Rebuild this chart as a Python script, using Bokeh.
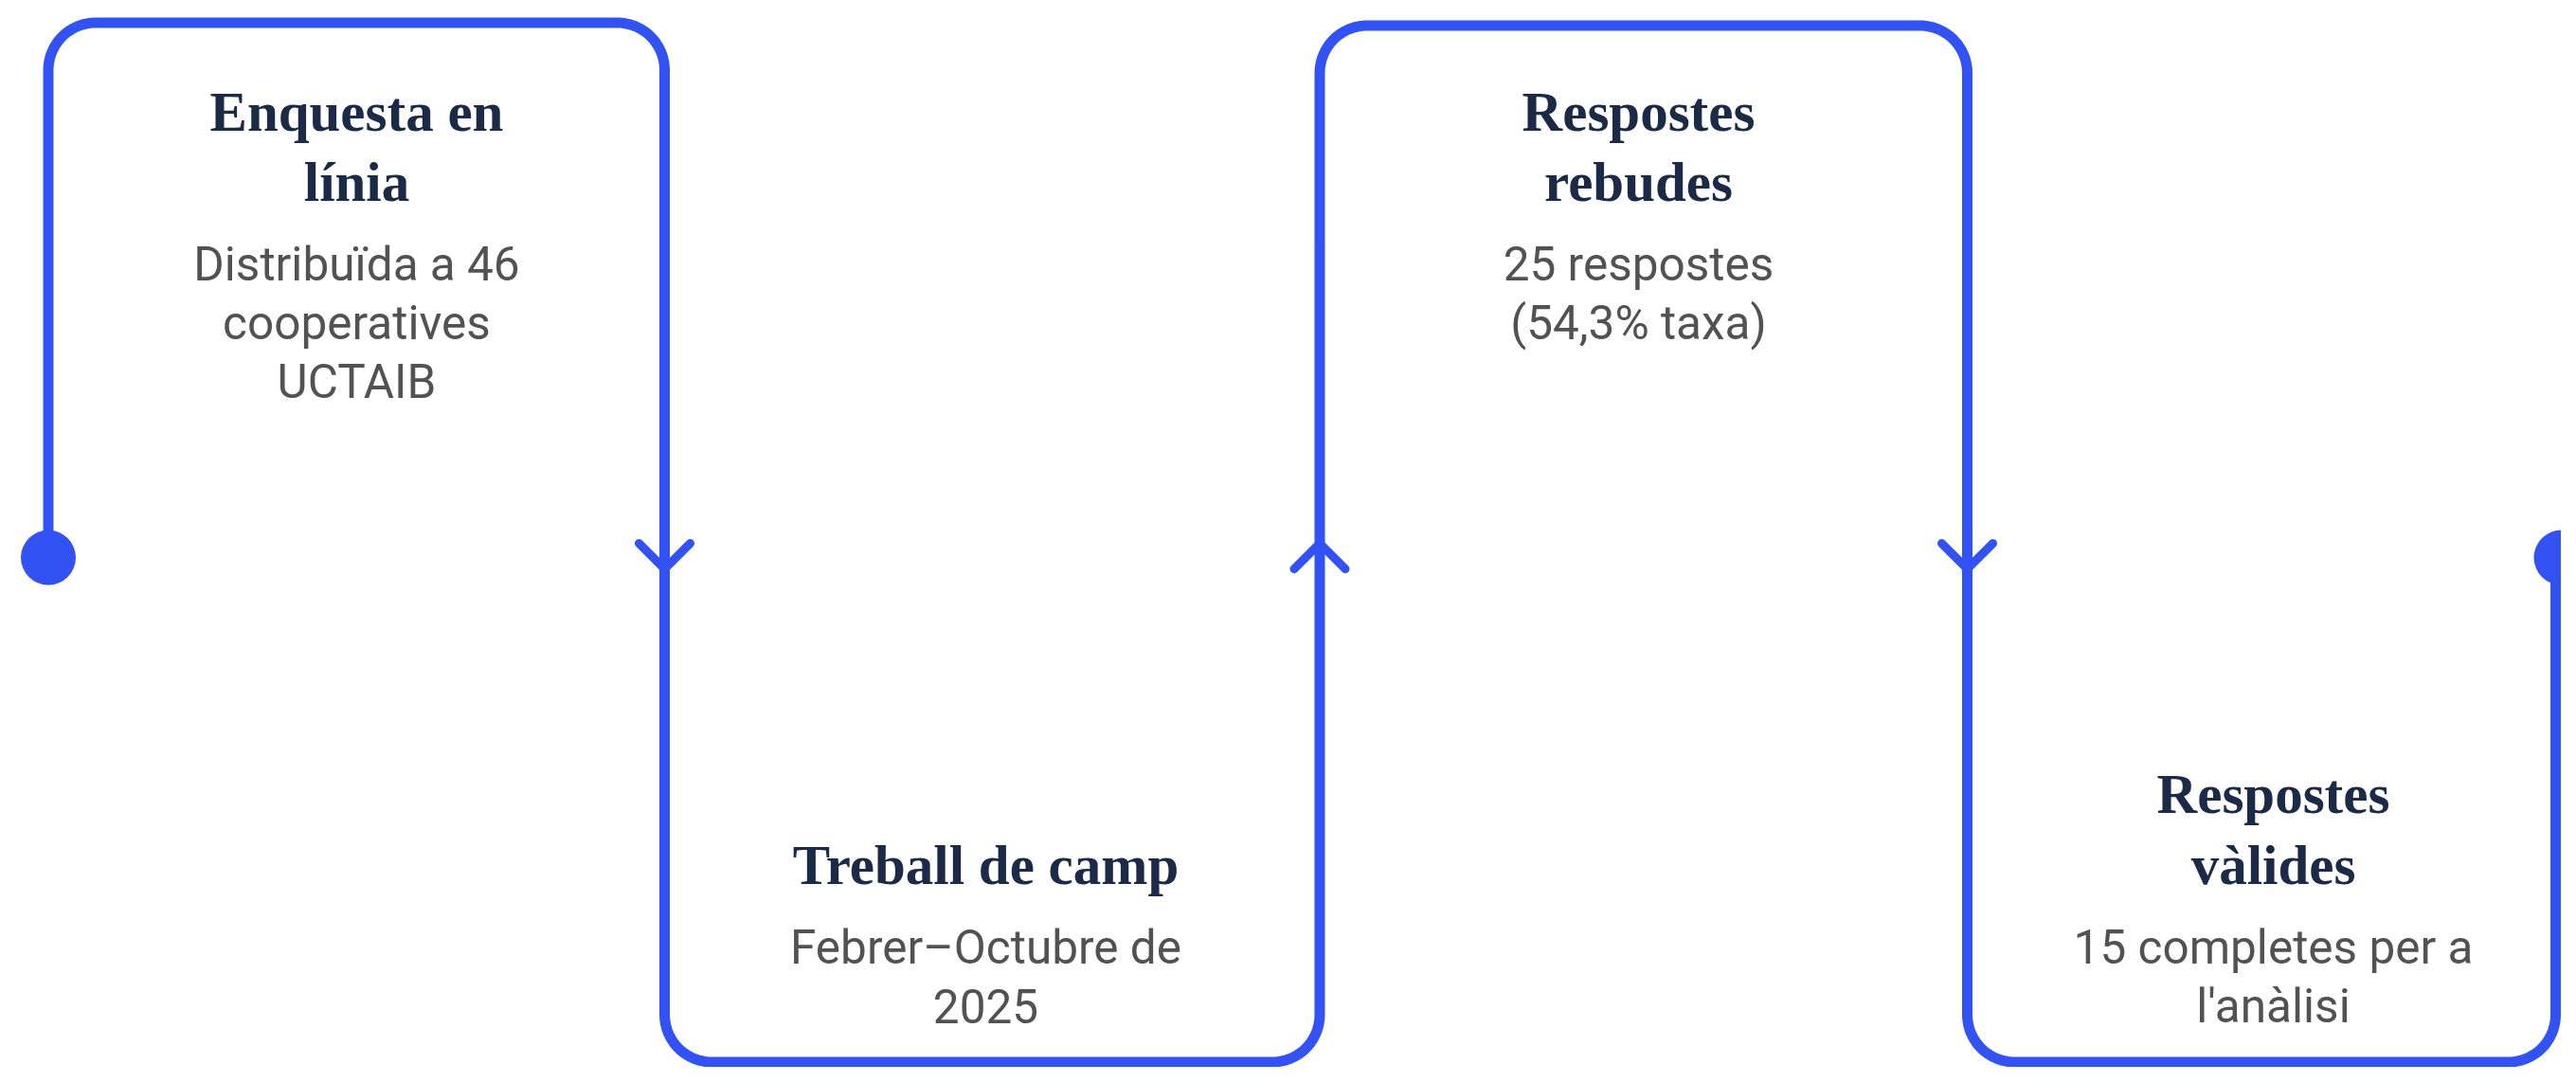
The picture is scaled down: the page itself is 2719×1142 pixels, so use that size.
import numpy as np
from bokeh.plotting import figure
from bokeh.models import Range1d
from bokeh.core.properties import value
from bokeh.embed import file_html
from bokeh.resources import INLINE

# ---- content -------------------------------------------------------------
step_titles = [["Enquesta en", "línia"],
               ["Treball de camp"],
               ["Respostes", "rebudes"],
               ["Respostes", "vàlides"]]
step_descriptions = [["Distribuïda a 46", "cooperatives", "UCTAIB"],
                     ["Febrer–Octubre de", "2025"],
                     ["25 respostes", "(54,3% taxa)"],
                     ["15 completes per a", "l'anàlisi"]]
step_positions = ["top", "bottom", "top", "bottom"]

# ---- layout (page pixel coordinates) ------------------------------------
BLUE = "#3352f3"
NAVY = "#1b2a47"
GREY = "#525252"
W, H = 2703, 1126
column_edges = [50.5, 701, 1392.5, 2076, 2697]
text_centers = [376, 1040, 1729, 2399]
y_tops = [23.5, None, 26.5, None]
y_mid, y_bottom = 588, 1120.5
corner_r = 50
line_w = 11

p = figure(width=W, height=H, output_backend="svg", toolbar_location=None,
           x_range=Range1d(0, W), y_range=Range1d(H, 0),
           min_border=0, outline_line_color=None, background_fill_color="white",
           border_fill_color="white")
p.axis.visible = False
p.grid.visible = False

# serpentine path vertices
verts = [(column_edges[0], y_mid)]
for i in range(4):
    yy = y_tops[i] if step_positions[i] == "top" else y_bottom
    verts.append((column_edges[i], yy))
    verts.append((column_edges[i + 1], yy))
verts.append((column_edges[-1], y_mid))
verts = np.array(verts, dtype=float)


def rounded(points, r, n=24):
    xs, ys = [points[0][0]], [points[0][1]]
    for k in range(1, len(points) - 1):
        P, A, B = points[k], points[k - 1], points[k + 1]
        u1 = (A - P) / np.linalg.norm(A - P)
        u2 = (B - P) / np.linalg.norm(B - P)
        S, E = P + u1 * r, P + u2 * r
        C = P + (u1 + u2) * r
        a0 = np.arctan2(S[1] - C[1], S[0] - C[0])
        a1 = np.arctan2(E[1] - C[1], E[0] - C[0])
        d = (a1 - a0 + np.pi) % (2 * np.pi) - np.pi
        t = np.linspace(0, 1, n)
        xs.extend(C[0] + r * np.cos(a0 + d * t))
        ys.extend(C[1] + r * np.sin(a0 + d * t))
    xs.append(points[-1][0])
    ys.append(points[-1][1])
    return xs, ys


px, py = rounded(verts, corner_r)
p.line(px, py, line_color=BLUE, line_width=line_w, line_join="round", line_cap="round")

# end dots
p.scatter([column_edges[0], column_edges[-1] + 6], [y_mid, y_mid], size=58,
          fill_color=BLUE, line_color=None)

# direction chevrons on the connecting verticals
arm = 27
cx, cy = [], []
for i in range(1, 4):
    x0 = column_edges[i]
    going_down = step_positions[i - 1] == "top"
    if going_down:
        tip, back = y_mid + 12, y_mid + 12 - arm
    else:
        tip, back = y_mid - 15, y_mid - 15 + arm
    cx.append([x0 - arm, x0, x0 + arm])
    cy.append([back, tip, back])
p.multi_line(cx, cy, line_color=BLUE, line_width=9, line_cap="round", line_join="round")

# texts
title_lh, desc_lh, gap = 74.5, 62, 87
first_top_baseline, last_bottom_baseline = 117, 1061
tx, ty, tt, dx, dy, dt = [], [], [], [], [], []
for i in range(4):
    xc = text_centers[i]
    tl, dl = step_titles[i], step_descriptions[i]
    if step_positions[i] == "top":
        b = first_top_baseline
        for j, s in enumerate(tl):
            tx.append(xc); ty.append(b + j * title_lh); tt.append(s)
        b2 = b + (len(tl) - 1) * title_lh + gap
        for j, s in enumerate(dl):
            dx.append(xc); dy.append(b2 + j * desc_lh); dt.append(s)
    else:
        b2 = last_bottom_baseline - (len(dl) - 1) * desc_lh
        for j, s in enumerate(dl):
            dx.append(xc); dy.append(b2 + j * desc_lh); dt.append(s)
        b = b2 - gap - (len(tl) - 1) * title_lh
        for j, s in enumerate(tl):
            tx.append(xc); ty.append(b + j * title_lh); tt.append(s)

p.text(tx, ty, text=tt, text_align="center", text_baseline="alphabetic",
       text_font=value("Liberation Serif"), text_font_style="bold",
       text_font_size="59px", text_color=NAVY)
p.text(dx, dy, text=dt, text_align="center", text_baseline="alphabetic",
       text_font=value("Roboto"), text_font_size="49.5px", text_color=GREY)

open("out.html", "w").write(file_html(p, INLINE))
